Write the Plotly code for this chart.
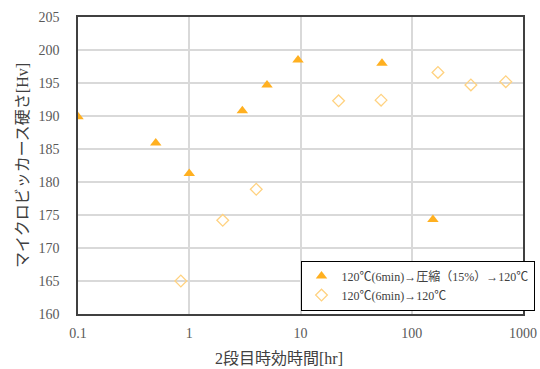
import plotly.graph_objects as go

# Series A: 120℃(6min)→圧縮（15%）→120℃ (filled triangles)
a_x = [0.1, 0.5, 1.0, 3.0, 5.0, 9.5, 54, 155]
a_y = [189.9, 185.9, 181.3, 190.8, 194.7, 198.5, 198.0, 174.3]
# Series B: 120℃(6min)→120℃ (open diamonds)
b_x = [0.84, 2.0, 4.0, 22, 53, 172, 340, 700]
b_y = [165.0, 174.2, 178.9, 192.3, 192.4, 196.6, 194.7, 195.2]

a_name = "120℃(6min)→圧縮（15%）→120℃"
b_name = "120℃(6min)→120℃"

x_tickvals = [0.1, 1, 10, 100, 1000]
x_ticktext = ["0.1", "1", "10", "100", "1000"]
y_tickvals = [160, 165, 170, 175, 180, 185, 190, 195, 200, 205]

font_fam = "Liberation Serif, Noto Sans CJK JP, serif"

fig = go.Figure()
fig.add_trace(go.Scatter(
    x=a_x, y=a_y, mode="markers", name=a_name,
    marker=dict(symbol="triangle-up", size=10, color="#FFB020",
                line=dict(width=0)),
))
fig.add_trace(go.Scatter(
    x=b_x, y=b_y, mode="markers", name=b_name,
    marker=dict(symbol="diamond-open", size=9, color="#FFD280",
                line=dict(width=1.3, color="#FFD280")),
))

fig.update_layout(
    width=540, height=369,
    margin=dict(l=78, r=17, t=17, b=55, autoexpand=False),
    paper_bgcolor="white", plot_bgcolor="white",
    font=dict(family=font_fam, color="#595959", size=14),
    showlegend=True,
    legend=dict(
        x=0.5, y=0.18, xanchor="left", yanchor="top",
        bgcolor="white", bordercolor="black", borderwidth=1,
        font=dict(family=font_fam, size=12, color="#404040"),
        itemwidth=30, tracegroupgap=0,
    ),
    annotations=[
        dict(text="2段目時効時間[hr]", xref="paper", yref="paper",
             x=(279 - 78) / 445, y=-(358 - 314) / 297,
             xanchor="center", yanchor="middle", showarrow=False,
             font=dict(family=font_fam, size=16, color="#404040")),
    ],
)
fig.update_xaxes(
    type="log", range=[-1, 3],
    tickvals=x_tickvals, ticktext=x_ticktext,
    tickfont=dict(family="Liberation Serif", size=14, color="#595959"),
    showgrid=True, gridcolor="#D9D9D9", gridwidth=1.5,
    showline=True, linecolor="#404040", linewidth=1.5, mirror=True,
    ticks="", ticklabelstandoff=5,
    zeroline=False,
)
fig.update_yaxes(
    range=[160, 205],
    tickvals=y_tickvals,
    tickfont=dict(family="Liberation Serif", size=14, color="#595959"),
    showgrid=True, gridcolor="#D9D9D9", gridwidth=1.5,
    showline=True, linecolor="#404040", linewidth=1.5, mirror=True,
    ticks="", ticklabelstandoff=14,
    title=dict(text="マイクロビッカース硬さ[Hv]", font=dict(size=16, color="#404040"), standoff=6),
    zeroline=False,
)

fig.write_html("out.html")
